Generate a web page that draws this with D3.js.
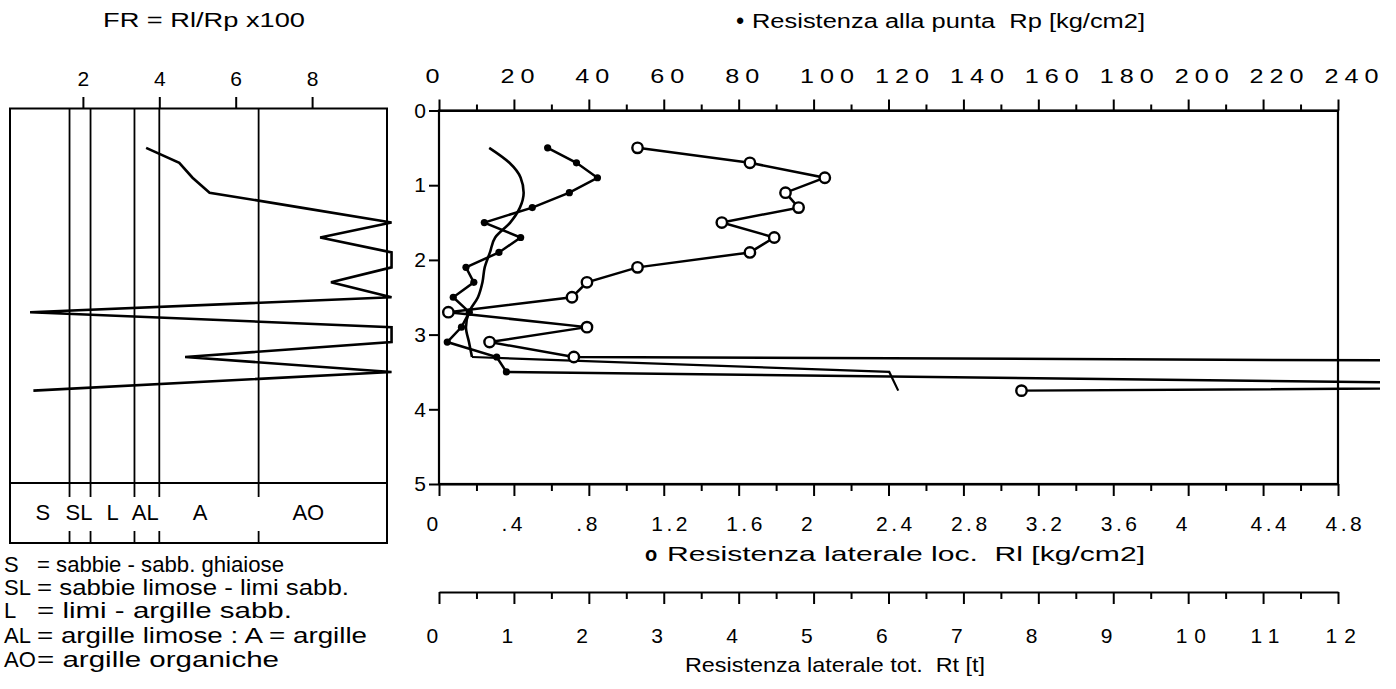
<!DOCTYPE html>
<html>
<head>
<meta charset="utf-8">
<script src="https://cdn.jsdelivr.net/npm/d3@7"></script>
<style>
  body { margin: 0; background: #fff; }
  svg { display: block; font-family: "Liberation Sans", Arial, sans-serif; }
  text { white-space: pre; fill: #000; }
</style>
</head>
<body>
<svg id="chart" width="1396" height="689"></svg>
<script>
// readings every 20 cm, last one at 3.75 m (values past the scale run off the frame)
const depth = [0.5, 0.7, 0.9, 1.1, 1.3, 1.5, 1.7, 1.9, 2.1, 2.3, 2.5, 2.7, 2.9, 3.1, 3.3, 3.5, 3.75]
const rp = [29, 36.7, 42.3, 34.8, 24.9, 12.1, 21.8, 16, 7.2, 9.3, 3.8, 8.1, 6.0, 2.2, 15.4, 18, 442]
const rl = [1.06, 1.66, 2.06, 1.85, 1.92, 1.51, 1.79, 1.66, 1.06, 0.79, 0.71, 0.05, 0.79, 0.27, 0.72, 20, 3.11]
const rt = [0.67, 0.94, 1.09, 1.13, 1.08, 0.95, 0.75, 0.68, 0.61, 0.58, 0.52, 0.40, 0.36, 0.40, 0.44, 6.01, 6.13]

// soil classes on the FR scale
const classBounds = [1.65, 2.2, 3.35, 4.0, 6.6]
const classNames = ["S", "SL", "L", "AL", "A", "AO"]
const classLabelAt = [0.95, 1.9, 2.78, 3.63, 5.07, 7.9]
const frMax = 10.08 // FR beyond this is drawn on the right edge

const frTicks = [2, 4, 6, 8]
const depthTicks = [0, 1, 2, 3, 4, 5]
const rpTicks = [0, 20, 40, 60, 80, 100, 120, 140, 160, 180, 200, 220, 240]
const rlTicks = [0, 0.4, 0.8, 1.2, 1.6, 2, 2.4, 2.8, 3.2, 3.6, 4, 4.4, 4.8]
const rlTickLabels = ["0", ".4", ".8", "1.2", "1.6", "2", "2.4", "2.8", "3.2", "3.6", "4", "4.4", "4.8"]
const rtTicks = [0, 1, 2, 3, 4, 5, 6, 7, 8, 9, 10, 11, 12]

const legendKeys = ["S", "SL", "L", "AL", "AO"]
const legendTexts = [
  "= sabbie - sabb. ghiaiose",
  "= sabbie limose - limi sabb.",
  "= limi - argille sabb.",
  "= argille limose : A = argille",
  "= argille organiche"
]

const rows = depth.map((d, i) => ({
  depth: d, rp: rp[i], rl: rl[i], rt: rt[i], fr: rl[i] / rp[i] * 100
}))

const svg = d3.select("#chart")
const box = { left: 439, right: 1338, top: 110.5, bottom: 484 }
const lp = { left: 10, right: 387, top: 108.5, strip: 483, bottom: 543 }

const x = d3.scaleLinear().domain([0, 240]).range([box.left, box.right])
const xRl = d3.scaleLinear().domain([0, 4.8]).range([box.left, box.right])
const xRt = d3.scaleLinear().domain([0, 12]).range([box.left, box.right])
const y = d3.scaleLinear().domain([0, 5]).range([box.top, box.bottom])
const fr = d3.scaleLinear().domain([0, 10]).range([6.5, 388.5])

const defs = svg.append("defs")
defs.append("clipPath").attr("id", "clipMain")
  .append("rect").attr("x", 0).attr("y", 0).attr("width", 1380).attr("height", 689)

const ink = "#000"

// ---------- left panel (FR) ----------
const left = svg.append("g")

left.append("rect")
  .attr("x", lp.left).attr("y", lp.top)
  .attr("width", lp.right - lp.left).attr("height", lp.bottom - lp.top)
  .attr("fill", "none").attr("stroke", ink).attr("stroke-width", 2)
left.append("line")
  .attr("x1", lp.left).attr("x2", lp.right).attr("y1", lp.strip).attr("y2", lp.strip)
  .attr("stroke", ink).attr("stroke-width", 2)

left.selectAll("line.bound")
  .data(classBounds)
  .join("line")
  .attr("class", "bound")
  .attr("x1", d => fr(d)).attr("x2", d => fr(d))
  .attr("y1", lp.top).attr("y2", lp.strip + 14)
  .attr("stroke", ink).attr("stroke-width", 1.8)
left.selectAll("line.boundlow")
  .data(classBounds)
  .join("line")
  .attr("class", "boundlow")
  .attr("x1", d => fr(d)).attr("x2", d => fr(d))
  .attr("y1", lp.bottom - 12).attr("y2", lp.bottom)
  .attr("stroke", ink).attr("stroke-width", 1.8)

left.selectAll("text.cls")
  .data(classNames)
  .join("text")
  .attr("class", "cls")
  .attr("x", (d, i) => fr(classLabelAt[i]))
  .attr("y", 520)
  .attr("text-anchor", "middle")
  .attr("font-size", 22)
  .text(d => d)

const frAxis = left.append("g")
  .attr("transform", `translate(0,${lp.top})`)
  .call(d3.axisTop(fr).tickValues(frTicks).tickSize(11.5).tickSizeOuter(0).tickFormat(d3.format("d")))
frAxis.select(".domain").remove()
frAxis.selectAll("line").attr("stroke", ink).attr("stroke-width", 2)
frAxis.selectAll("text").attr("font-size", 21).attr("font-family", null).attr("y", -22.5).attr("dy", 0)

left.append("path")
  .datum(rows)
  .attr("fill", "none").attr("stroke", ink).attr("stroke-width", 2.6)
  .attr("stroke-linejoin", "miter")
  .attr("d", d3.line().x(d => fr(Math.min(d.fr, frMax))).y(d => y(d.depth)))

left.append("text")
  .attr("x", 103).attr("y", 27)
  .attr("font-size", 20).attr("textLength", 202).attr("lengthAdjust", "spacingAndGlyphs")
  .text("FR = Rl/Rp x100")

const legendRows = [572, 595, 618, 643, 667]
const legendWidths = [247, 312, 255, 330, 242]
const legend = left.selectAll("g.leg")
  .data(legendKeys)
  .join("g")
  .attr("class", "leg")
  .attr("transform", (d, i) => `translate(0,${legendRows[i]})`)
legend.append("text").attr("x", 4).attr("font-size", 22).text(d => d)
legend.append("text").attr("x", 37).attr("font-size", 22)
  .attr("textLength", (d, i) => legendWidths[i]).attr("lengthAdjust", "spacingAndGlyphs")
  .text((d, i) => legendTexts[i])

// ---------- main panel ----------
const main = svg.append("g")

main.append("rect")
  .attr("x", box.left).attr("y", box.top)
  .attr("width", box.right - box.left).attr("height", box.bottom - box.top)
  .attr("fill", "none").attr("stroke", ink).attr("stroke-width", 2.2)

function styleAxis(g, size) {
  g.selectAll("line").attr("stroke", ink).attr("stroke-width", 2)
  g.selectAll(".domain").attr("stroke", ink).attr("stroke-width", 2.2)
  g.selectAll("text").attr("font-family", null).attr("font-size", size)
}

const minor = (ticks) => d3.pairs(ticks).map(([a, b]) => (a + b) / 2)

// top: Rp
const topAxis = main.append("g")
  .attr("transform", `translate(0,${box.top})`)
  .call(d3.axisTop(x).tickValues(rpTicks).tickSize(11).tickSizeOuter(0).tickFormat(d3.format("d")))
main.append("g")
  .attr("transform", `translate(0,${box.top})`)
  .call(d3.axisTop(x).tickValues(minor(rpTicks)).tickSize(6).tickSizeOuter(0).tickFormat(""))
  .call(g => g.select(".domain").remove())
  .call(g => styleAxis(g, 21))
styleAxis(topAxis, 21)
topAxis.selectAll("text")
  .attr("text-anchor", "start")
  .attr("letter-spacing", 5)
  .attr("x", -14 / 1.2).attr("y", -27.5).attr("dy", 0)
  .attr("transform", "scale(1.2,1)")

// left: depth
const depthAxis = main.append("g")
  .attr("transform", `translate(${box.left},0)`)
  .call(d3.axisLeft(y).tickValues(depthTicks).tickSize(10).tickSizeOuter(0).tickPadding(3).tickFormat(d3.format("d")))
styleAxis(depthAxis, 21)
depthAxis.select(".domain").remove()

// bottom: Rl
const rlAxis = main.append("g")
  .attr("transform", `translate(0,${box.bottom})`)
  .call(d3.axisBottom(xRl).tickValues(rlTicks).tickSize(12).tickSizeOuter(0).tickFormat((d, i) => rlTickLabels[i]))
main.append("g")
  .attr("transform", `translate(0,${box.bottom})`)
  .call(d3.axisBottom(xRl).tickValues(minor(rlTicks)).tickSize(7).tickSizeOuter(0).tickFormat(""))
  .call(g => g.select(".domain").remove())
  .call(g => styleAxis(g, 21))
styleAxis(rlAxis, 21)
rlAxis.selectAll("text")
  .attr("text-anchor", "start").attr("letter-spacing", 3.5)
  .attr("x", -13).attr("y", 47).attr("dy", 0)

// second bottom: Rt
const rtY = 592
const rtAxis = main.append("g")
  .attr("transform", `translate(0,${rtY})`)
  .call(d3.axisBottom(xRt).tickValues(rtTicks).tickSize(12).tickSizeOuter(0).tickFormat(d3.format("d")))
main.append("g")
  .attr("transform", `translate(0,${rtY})`)
  .call(d3.axisBottom(xRt).tickValues(minor(rtTicks)).tickSize(7).tickSizeOuter(0).tickFormat(""))
  .call(g => g.select(".domain").remove())
  .call(g => styleAxis(g, 21))
styleAxis(rtAxis, 21)
rtAxis.selectAll("text")
  .attr("text-anchor", "start").attr("letter-spacing", 7)
  .attr("x", -13).attr("y", 51).attr("dy", 0)

// series
const plot = main.append("g").attr("clip-path", "url(#clipMain)")

plot.append("path")
  .datum(rows.slice(0, 15))
  .attr("fill", "none").attr("stroke", ink).attr("stroke-width", 2.6)
  .attr("d", d3.line().curve(d3.curveMonotoneY).x(d => xRt(d.rt)).y(d => y(d.depth)))
plot.append("path")
  .datum(rows.slice(14))
  .attr("fill", "none").attr("stroke", ink).attr("stroke-width", 2.2)
  .attr("d", d3.line().x(d => xRt(d.rt)).y(d => y(d.depth)))

plot.append("path")
  .datum(rows)
  .attr("fill", "none").attr("stroke", ink).attr("stroke-width", 2.5)
  .attr("d", d3.line().x(d => x(d.rp)).y(d => y(d.depth)))

plot.append("path")
  .datum(rows)
  .attr("fill", "none").attr("stroke", ink).attr("stroke-width", 2.5)
  .attr("d", d3.line().x(d => xRl(d.rl)).y(d => y(d.depth)))

plot.selectAll("circle.rp")
  .data(rows.filter(d => d.rp <= 240))
  .join("circle")
  .attr("class", "rp")
  .attr("cx", d => x(d.rp)).attr("cy", d => y(d.depth))
  .attr("r", 3.6).attr("fill", ink)

plot.selectAll("circle.rl")
  .data(rows.filter(d => d.rl <= 4.8))
  .join("circle")
  .attr("class", "rl")
  .attr("cx", d => xRl(d.rl)).attr("cy", d => y(d.depth))
  .attr("r", 5.2).attr("fill", "#fff").attr("stroke", ink).attr("stroke-width", 2.4)

// titles
main.append("text")
  .attr("x", 740).attr("y", 28).attr("text-anchor", "middle")
  .attr("font-size", 22).attr("font-weight", "bold").text("•")
main.append("text")
  .attr("x", 752).attr("y", 28)
  .attr("font-size", 20).attr("textLength", 393).attr("lengthAdjust", "spacingAndGlyphs")
  .text("Resistenza alla punta  Rp [kg/cm2]")

main.append("text")
  .attr("x", 651).attr("y", 561).attr("text-anchor", "middle")
  .attr("font-size", 20).attr("font-weight", "bold").text("o")
main.append("text")
  .attr("x", 667).attr("y", 561)
  .attr("font-size", 21).attr("textLength", 478).attr("lengthAdjust", "spacingAndGlyphs")
  .text("Resistenza laterale loc.  Rl [kg/cm2]")

main.append("text")
  .attr("x", 685).attr("y", 672)
  .attr("font-size", 21).attr("textLength", 300).attr("lengthAdjust", "spacingAndGlyphs")
  .text("Resistenza laterale tot.  Rt [t]")
</script>
</body>
</html>
